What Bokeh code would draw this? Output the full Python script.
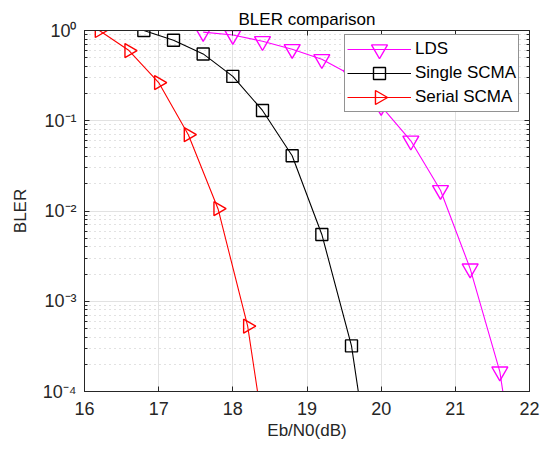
from bokeh.plotting import figure
from bokeh.models import (FixedTicker, CustomJSTickFormatter, LinearAxis, LogAxis,
                          Range1d, Legend, LegendItem, CustomJS)
from bokeh.core.properties import value
from bokeh.embed import file_html
from bokeh.resources import INLINE

# Block error rate versus Eb/N0 for three receivers
snr_lds = [17.6, 18.0, 18.4, 18.8, 19.2, 19.6, 20.0, 20.4, 20.8, 21.2, 21.6, 22.0]
bler_lds = [0.96, 0.89, 0.76, 0.62, 0.48, 0.32, 0.145, 0.060, 0.017, 0.0023, 1.66e-4, 1.1e-6]

snr_single = [16.8, 17.2, 17.6, 18.0, 18.4, 18.8, 19.2, 19.6, 20.0]
bler_single = [1.0, 0.78, 0.55, 0.31, 0.13, 0.041, 0.0055, 3.2e-4, 2.0e-6]

snr_serial = [16.2, 16.6, 17.0, 17.4, 17.8, 18.2, 18.6]
bler_serial = [1.0, 0.60, 0.265, 0.070, 0.0106, 5.3e-4, 3.5e-6]

x_ticks = [16, 17, 18, 19, 20, 21, 22]
y_ticks = [1e-4, 1e-3, 1e-2, 1e-1, 1.0]
y_minor = [k * 10.0 ** e for e in range(-4, 0) for k in range(2, 10)]

FONT = "Liberation Sans"
AX = "#262626"

p = figure(width=545, height=451, y_axis_type="log",
           x_range=Range1d(16, 22), y_range=Range1d(1e-4, 1),
           output_backend="svg", toolbar_location=None,
           min_border_left=84, min_border_right=16,
           min_border_top=30, min_border_bottom=60,
           title="BLER comparison")

p.title.align = "center"
p.title.text_font = FONT
p.title.text_font_size = "17px"
p.title.text_font_style = "normal"
p.title.text_color = "#000000"
p.title.standoff = 4

p.outline_line_color = AX
p.background_fill_color = "white"
p.border_fill_color = "white"

sup_js = """
const sup = {'0':'\\u2070','1':'\\u00b9','2':'\\u00b2','3':'\\u00b3','4':'\\u2074',
             '5':'\\u2075','6':'\\u2076','7':'\\u2077','8':'\\u2078','9':'\\u2079','-':'\\u207b'};
const e = Math.round(Math.log10(tick));
return '10' + String(e).split('').map(c => sup[c]).join('');
"""

xt = FixedTicker(ticks=x_ticks)
yt = FixedTicker(ticks=y_ticks, minor_ticks=y_minor)


def style_axis(ax):
    ax.axis_line_color = AX
    ax.major_tick_line_color = AX
    ax.minor_tick_line_color = AX
    ax.major_tick_in = 5
    ax.major_tick_out = 0
    ax.minor_tick_in = 3
    ax.minor_tick_out = 0
    ax.major_label_text_font = FONT
    ax.major_label_text_font_size = "18px"
    ax.major_label_text_color = AX
    ax.axis_label_text_font = FONT
    ax.axis_label_text_font_size = "17px"
    ax.axis_label_text_font_style = "normal"
    ax.axis_label_text_color = AX


xa = p.xaxis[0]
xa.ticker = xt
xa.axis_label = "Eb/N0(dB)"
style_axis(xa)
xa.major_label_standoff = 10
xa.axis_label_standoff = 3

ya = p.yaxis[0]
ya.ticker = yt
ya.formatter = CustomJSTickFormatter(code=sup_js)
ya.axis_label = "BLER"
style_axis(ya)
ya.major_label_standoff = 8
ya.axis_label_standoff = 10

blank = "return '';"
top = LinearAxis(ticker=xt, formatter=CustomJSTickFormatter(code=blank))
style_axis(top)
top.major_label_text_font_size = "0px"
top.major_label_standoff = 0
p.add_layout(top, "above")

right = LogAxis(ticker=yt, formatter=CustomJSTickFormatter(code=blank))
style_axis(right)
right.major_label_text_font_size = "0px"
right.major_label_standoff = 0
p.add_layout(right, "right")

# grid: solid at major ticks, dotted at the minor decades on y
p.xgrid.grid_line_color = "#e2e2e2"
p.ygrid.grid_line_color = "#e2e2e2"
p.ygrid.minor_grid_line_color = "#c4c4c4"
p.ygrid.minor_grid_line_dash = "1 4"

# Outline-only markers drawn at a fixed half-size, so the legend keys
# come out the same size as the markers on the curves.
MARKER_JS = {
    "down": """
const {ctx, i, visuals} = cb_data;
const h = half * Math.sqrt(3), a = h / 3;
ctx.moveTo(-half, -a); ctx.lineTo(half, -a); ctx.lineTo(0, h - a); ctx.closePath();
if (visuals.line.doit) { visuals.line.set_vectorize(ctx, i); ctx.stroke(); }
return null;
""",
    "box": """
const {ctx, i, visuals} = cb_data;
ctx.rect(-half, -half, 2 * half, 2 * half);
if (visuals.line.doit) { visuals.line.set_vectorize(ctx, i); ctx.stroke(); }
return null;
""",
    "right": """
const {ctx, i, visuals} = cb_data;
const h = half * Math.sqrt(3), a = h / 3;
ctx.moveTo(-a, -half); ctx.lineTo(-a, half); ctx.lineTo(h - a, 0); ctx.closePath();
if (visuals.line.doit) { visuals.line.set_vectorize(ctx, i); ctx.stroke(); }
return null;
""",
}

series = [
    ("LDS", snr_lds, bler_lds, "#ff00ff", "down", 8),
    ("Single SCMA", snr_single, bler_single, "#000000", "box", 6),
    ("Serial SCMA", snr_serial, bler_serial, "#ff0000", "right", 7),
]

items = []
for name, xs, ys, color, shape, half in series:
    ln = p.line(xs, ys, line_color=color, line_width=1.1)
    key = "@" + shape
    sc = p.scatter(xs, ys, marker=value(key), size=2 * half,
                   defs={key: CustomJS(args=dict(half=half), code=MARKER_JS[shape])},
                   line_color=color, line_width=1.4, fill_color=None)
    items.append(LegendItem(label=name, renderers=[ln, sc]))

legend = Legend(items=items, location=(260, 279))
legend.label_text_font = FONT
legend.label_text_font_size = "17px"
legend.label_text_color = "#000000"
legend.glyph_width = 64
legend.glyph_height = 24
legend.label_height = 24
legend.spacing = 0
legend.padding = 2
legend.label_standoff = 4
legend.border_line_color = AX
legend.border_line_width = 1
legend.background_fill_color = "white"
legend.background_fill_alpha = 1.0
p.add_layout(legend, "center")

open("out.html", "w").write(file_html(p, INLINE))
